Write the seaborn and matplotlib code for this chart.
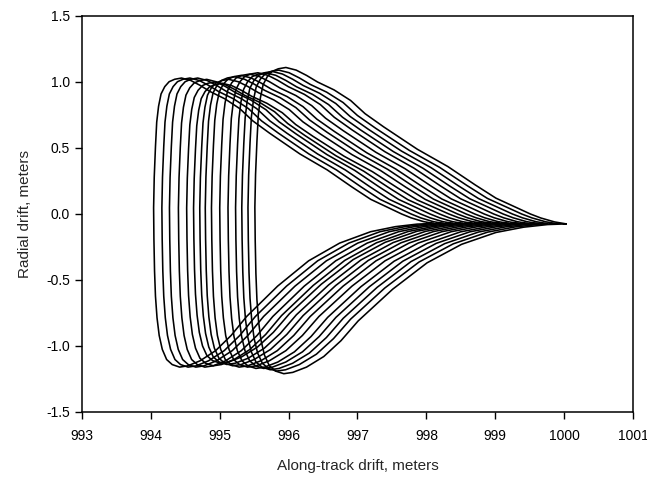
import numpy as np
import pandas as pd
import matplotlib
matplotlib.use("Agg")
import matplotlib.pyplot as plt
import seaborn as sns

# Left edge (along-track position at zero radial drift) of each revolution
left_x = [994.04, 994.16, 994.27, 994.40, 994.52, 994.62, 994.71, 994.79,
          994.88, 995.00, 995.12, 995.23, 995.32, 995.41, 995.51]
# Right tip of each revolution
tip_x = [998.10, 998.24, 998.38, 998.52, 998.66, 998.80, 998.93, 999.06,
         999.19, 999.33, 999.47, 999.61, 999.75, 999.89, 1000.02]
# Highest radial drift of each revolution
peak_y = [1.03, 1.03, 1.03, 1.02, 1.00, 0.99, 1.02, 1.04,
          1.05, 1.06, 1.07, 1.07, 1.08, 1.09, 1.11]
# Lowest radial drift of each revolution
trough_y = [-1.16, -1.16, -1.16, -1.16, -1.15, -1.13, -1.14, -1.15,
            -1.16, -1.16, -1.17, -1.17, -1.18, -1.19, -1.21]

# Shape of one revolution (last one), offset from its left edge
shape_dx = [4.52, 4.35, 4.15, 4.00, 3.75, 3.50, 3.20, 2.80, 2.36, 1.87,
            1.60, 1.39, 1.15, 0.91, 0.75, 0.60, 0.45, 0.34, 0.25, 0.18,
            0.12, 0.08, 0.05, 0.03, 0.01, 0.00, 0.005, 0.015, 0.03, 0.055,
            0.09, 0.14, 0.21, 0.30, 0.42, 0.55, 0.75, 1.00, 1.25, 1.50,
            2.00, 2.50, 3.00, 3.50, 3.90, 4.25, 4.52]
shape_y = [-0.075, -0.06, -0.03, 0.00, 0.06, 0.12, 0.22, 0.36, 0.49, 0.66,
           0.76, 0.86, 0.94, 1.00, 1.05, 1.09, 1.11, 1.10, 1.08, 1.04,
           0.98, 0.88, 0.75, 0.55, 0.30, 0.05, -0.20, -0.45, -0.65, -0.82,
           -0.96, -1.07, -1.15, -1.19, -1.21, -1.20, -1.16, -1.08, -0.96, -0.81,
           -0.57, -0.37, -0.23, -0.14, -0.10, -0.08, -0.075]

x_ticks = [993, 994, 995, 996, 997, 998, 999, 1000, 1001]
y_ticks = [-1.5, -1.0, -0.5, 0.0, 0.5, 1.0, 1.5]

ref_width = tip_x[-1] - left_x[-1]
ref_peak = max(shape_y)
ref_trough = min(shape_y)

rows = []
for k, (lx, tx, pk, tr) in enumerate(zip(left_x, tip_x, peak_y, trough_y)):
    stretch = (tx - lx) / ref_width
    for dx, y in zip(shape_dx, shape_y):
        yy = y * pk / ref_peak if y > 0 else y * tr / ref_trough
        rows.append({"rev": k, "x": lx + dx * stretch, "y": yy})
df = pd.DataFrame(rows)

sns.set_style("ticks")
plt.rcParams["font.family"] = ["Liberation Sans", "DejaVu Sans"]

fig = plt.figure(figsize=(6.47, 4.79), dpi=100)
ax = fig.add_axes([0.1267, 0.1399, 0.8517, 0.8267])

sns.lineplot(data=df, x="x", y="y", units="rev", estimator=None, sort=False,
             color="black", linewidth=1.15, ax=ax, legend=False)

ax.set_xlim(993, 1001)
ax.set_ylim(-1.5, 1.5)
ax.set_xticks(x_ticks)
ax.set_xticklabels([str(t) for t in x_ticks])
ax.set_yticks(y_ticks)
ax.set_yticklabels([f"{t:.1f}" for t in y_ticks])
ax.tick_params(axis="x", pad=7)
ax.tick_params(axis="both", direction="out", length=5, width=1.0,
               labelsize=10, color="black", labelcolor="black")
ax.tick_params(top=False, right=False)
for s in ax.spines.values():
    s.set_visible(True)
    s.set_color("black")
    s.set_linewidth(1.1)

ax.set_xlabel("Along-track drift, meters", fontsize=11, labelpad=12)
ax.set_ylabel("Radial drift, meters", fontsize=11, labelpad=10)

fig.savefig("out.png", dpi=100, facecolor="white")
